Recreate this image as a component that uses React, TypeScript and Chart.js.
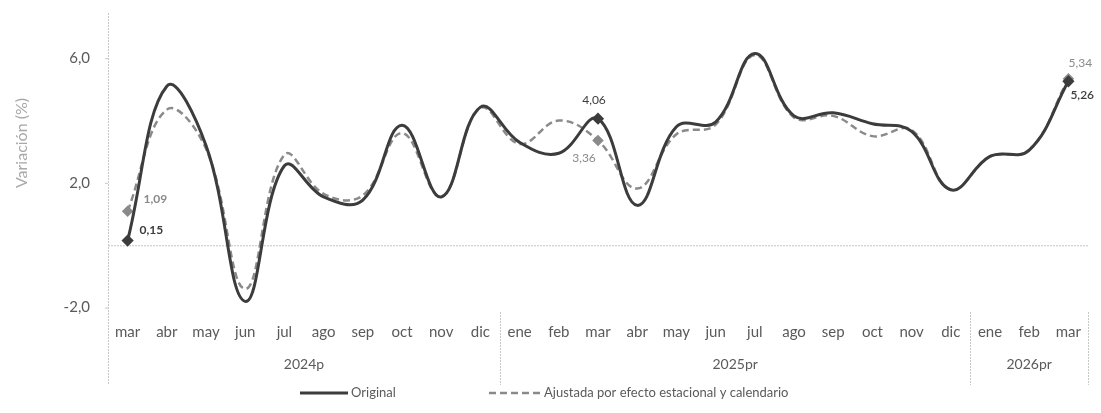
import { useEffect, useRef } from 'react';
import { Chart, registerables } from 'chart.js';
Chart.register(...registerables);

const months = ['mar','abr','may','jun','jul','ago','sep','oct','nov','dic','ene','feb','mar','abr','may','jun','jul','ago','sep','oct','nov','dic','ene','feb','mar'];
const yearLabels = ['2024p', '2025pr', '2026pr'];
const yearSpans = [10, 12, 3];
const original = [0.15, 5.1, 3.2, -1.8, 2.55, 1.55, 1.45, 3.85, 1.55, 4.43, 3.3, 2.95, 4.06, 1.28, 3.8, 3.95, 6.15, 4.15, 4.25, 3.9, 3.65, 1.78, 2.85, 3.05, 5.26];
const adjusted = [1.09, 4.35, 3.1, -1.4, 2.9, 1.65, 1.6, 3.6, 1.55, 4.4, 3.25, 4.0, 3.36, 1.82, 3.56, 3.87, 6.1, 4.1, 4.15, 3.5, 3.7, 1.78, 2.85, 3.05, 5.34];
const yTicks = [-2, 2, 6];
const labeledIdx = [0, 12, 24];
const seriesNames = ['Original', 'Ajustada por efecto estacional y calendario'];
const yTitle = 'Variación (%)';

const FONT = 'Lato, "Open Sans", sans-serif';
const DARK = '#3c3c3c';
const GRAY = '#8a8a8a';
const TXT = '#5a5a5a';

const fmt = (v: number, d: number) => v.toFixed(d).replace('.', ',');

// label offsets relative to the point: [dx, dy, align]
const origOffsets: Record<number, [number, number, CanvasTextAlign, string]> = {
  0: [12, -10, 'left', 'bold'],
  12: [-4, -19, 'center', 'normal'],
  24: [2, 14, 'left', '600'],
};
const adjOffsets: Record<number, [number, number, CanvasTextAlign, string]> = {
  0: [16, -12, 'left', 'bold'],
  12: [-14, 18, 'center', 'normal'],
  24: [12, -16, 'center', 'normal'],
};

const deco = {
  id: 'deco',
  beforeDatasetsDraw(chart: any) {
    const { ctx, chartArea } = chart;
    const y = chart.scales.y;
    const y0 = y.getPixelForValue(0);
    ctx.save();
    ctx.strokeStyle = '#c4c4c4';
    ctx.lineWidth = 1;
    ctx.setLineDash([2, 1]);
    ctx.beginPath();
    ctx.moveTo(chartArea.left, y0 + 0.5);
    ctx.lineTo(chartArea.right, y0 + 0.5);
    ctx.stroke();
    ctx.restore();
  },
  afterDraw(chart: any) {
    const { ctx, chartArea } = chart;
    const x = chart.scales.x;
    ctx.save();
    // left axis line
    ctx.strokeStyle = '#c8c8c8';
    ctx.lineWidth = 1;
    ctx.setLineDash([2, 1]);
    ctx.beginPath();
    ctx.moveTo(chartArea.left + 0.5, 13);
    ctx.lineTo(chartArea.left + 0.5, 385);
    ctx.stroke();
    // small y ticks
    ctx.setLineDash([]);
    yTicks.forEach((t) => {
      const py = chart.scales.y.getPixelForValue(t);
      ctx.beginPath();
      ctx.moveTo(chartArea.left - 3, py + 0.5);
      ctx.lineTo(chartArea.left, py + 0.5);
      ctx.stroke();
    });
    // separators & year labels
    let start = 0;
    ctx.font = `14px ${FONT}`;
    ctx.fillStyle = TXT;
    ctx.textAlign = 'center';
    ctx.textBaseline = 'middle';
    yearSpans.forEach((span, gi) => {
      const end = start + span - 1;
      const leftX = start === 0 ? chartArea.left : (x.getPixelForValue(start - 1) + x.getPixelForValue(start)) / 2;
      const rightX = end === months.length - 1 ? chartArea.right : (x.getPixelForValue(end) + x.getPixelForValue(end + 1)) / 2;
      ctx.strokeStyle = '#c8c8c8';
      ctx.setLineDash([2, 1]);
      ctx.beginPath();
      ctx.moveTo(Math.round(rightX) + 0.5, 312);
      ctx.lineTo(Math.round(rightX) + 0.5, 385);
      ctx.stroke();
      ctx.fillText(yearLabels[gi], (leftX + rightX) / 2, 364);
      start += span;
    });
    ctx.setLineDash([]);
    // y title
    ctx.save();
    ctx.translate(22, 143);
    ctx.rotate(-Math.PI / 2);
    ctx.font = `16px ${FONT}`;
    ctx.fillStyle = '#a8a8a8';
    ctx.textAlign = 'center';
    ctx.textBaseline = 'middle';
    ctx.fillText(yTitle, 0, 0);
    ctx.restore();
    // legend
    ctx.font = `13px ${FONT}`;
    ctx.fillStyle = TXT;
    ctx.textAlign = 'left';
    ctx.textBaseline = 'middle';
    const ly = 393;
    ctx.strokeStyle = DARK;
    ctx.lineWidth = 3;
    ctx.beginPath();
    ctx.moveTo(300, ly);
    ctx.lineTo(348, ly);
    ctx.stroke();
    ctx.fillText(seriesNames[0], 351, ly);
    ctx.strokeStyle = GRAY;
    ctx.lineWidth = 2.5;
    ctx.setLineDash([7, 4]);
    ctx.beginPath();
    ctx.moveTo(489, ly);
    ctx.lineTo(540, ly);
    ctx.stroke();
    ctx.setLineDash([]);
    ctx.fillText(seriesNames[1], 544, ly);
    // data labels
    const m0 = chart.getDatasetMeta(0);
    const m1 = chart.getDatasetMeta(1);
    labeledIdx.forEach((i) => {
      const p0 = m0.data[i];
      const o0 = origOffsets[i];
      ctx.font = `${o0[3]} 12px ${FONT}`;
      ctx.fillStyle = DARK;
      ctx.textAlign = o0[2];
      ctx.fillText(fmt(original[i], 2), p0.x + o0[0], p0.y + o0[1]);
      const p1 = m1.data[i];
      const o1 = adjOffsets[i];
      ctx.font = `${o1[3]} 12px ${FONT}`;
      ctx.fillStyle = GRAY;
      ctx.textAlign = o1[2];
      ctx.fillText(fmt(adjusted[i], 2), p1.x + o1[0], p1.y + o1[1]);
    });
    ctx.restore();
  },
};

export default function App() {
  const ref = useRef<HTMLCanvasElement>(null);
  useEffect(() => {
    document.body.style.margin = '0';
    const markerRadius = (c: any) => (labeledIdx.includes(c.dataIndex) ? 4 : 0);
    const chart = new Chart(ref.current!, {
      type: 'line',
      data: {
        labels: months,
        datasets: [
          {
            label: seriesNames[0],
            data: original,
            borderColor: DARK,
            backgroundColor: DARK,
            borderWidth: 3,
            tension: 0.4,
            pointStyle: 'rectRot',
            pointRadius: markerRadius,
            pointBackgroundColor: DARK,
            pointBorderColor: DARK,
            fill: false,
          },
          {
            label: seriesNames[1],
            data: adjusted,
            borderColor: GRAY,
            backgroundColor: GRAY,
            borderWidth: 2.5,
            borderDash: [7, 4],
            tension: 0.4,
            pointStyle: 'rectRot',
            pointRadius: markerRadius,
            pointBackgroundColor: GRAY,
            pointBorderColor: GRAY,
            fill: false,
          },
        ],
      },
      options: {
        responsive: false,
        animation: false,
        devicePixelRatio: 1,
        layout: { padding: { top: 10, right: 13, bottom: 0, left: 0 } },
        plugins: { legend: { display: false }, tooltip: { enabled: false } },
        scales: {
          x: {
            type: 'category',
            offset: true,
            grid: { display: false, drawTicks: false },
            border: { display: false },
            ticks: {
              autoSkip: false,
              maxRotation: 0,
              color: TXT,
              font: { family: FONT, size: 15 },
              padding: 6,
            },
            afterFit: (s: any) => { s.height = 96; },
          },
          y: {
            min: -2.3,
            max: 7,
            grid: { display: false, drawTicks: false },
            border: { display: false },
            afterBuildTicks: (s: any) => { s.ticks = yTicks.map((v) => ({ value: v })); },
            ticks: {
              color: TXT,
              font: { family: FONT, size: 15 },
              padding: 18,
              callback: (v: any) => fmt(Number(v), 1),
            },
            afterFit: (s: any) => { s.width = 108; },
          },
        },
      },
      plugins: [deco],
    });
    return () => chart.destroy();
  }, []);
  return (
    <div style={{ width: 1101, height: 413 }}>
      <canvas ref={ref} width={1101} height={413} />
    </div>
  );
}
